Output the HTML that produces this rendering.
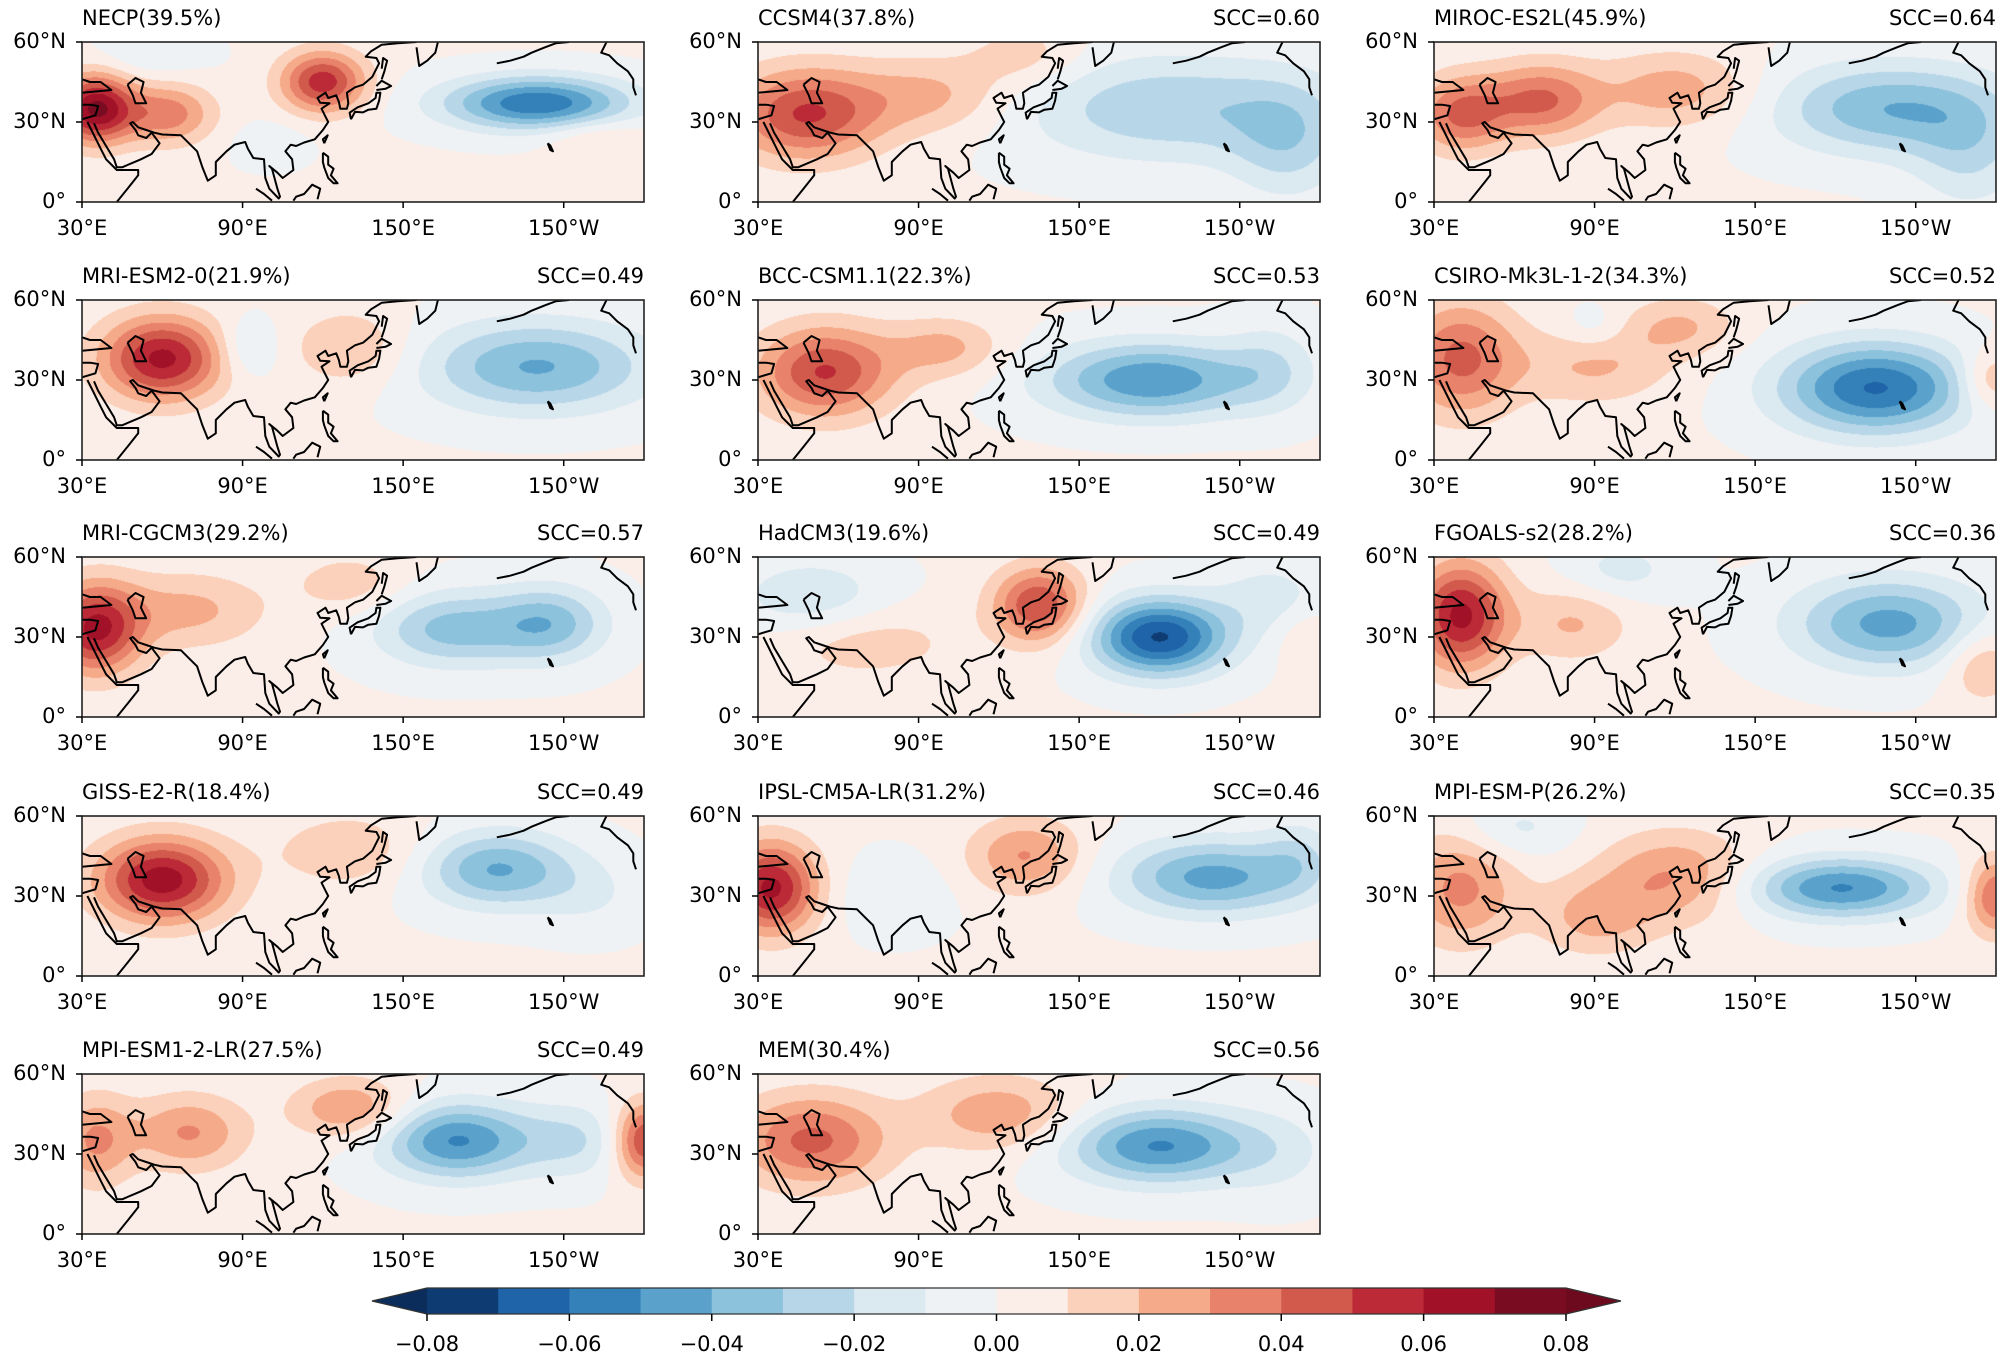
<!DOCTYPE html>
<html><head><meta charset="utf-8">
<style>
body{margin:0;background:#fff;}
#root{position:relative;width:2000px;height:1360px;overflow:hidden;font-family:"DejaVu Sans","Liberation Sans",sans-serif;color:#000;}
.t{position:absolute;font-size:21px;white-space:nowrap;line-height:1;}
canvas{position:absolute;}
svg{position:absolute;left:0;top:0;}
</style></head>
<body>
<div id="root"></div>
<script>
const panelNames = ["NECP(39.5%)","CCSM4(37.8%)","MIROC-ES2L(45.9%)","MRI-ESM2-0(21.9%)","BCC-CSM1.1(22.3%)","CSIRO-Mk3L-1-2(34.3%)","MRI-CGCM3(29.2%)","HadCM3(19.6%)","FGOALS-s2(28.2%)","GISS-E2-R(18.4%)","IPSL-CM5A-LR(31.2%)","MPI-ESM-P(26.2%)","MPI-ESM1-2-LR(27.5%)","MEM(30.4%)"];
const sccValues = [null,"0.60","0.64","0.49","0.53","0.52","0.57","0.49","0.36","0.49","0.46","0.35","0.49","0.56"];
// anomaly centres: [lon, lat, amplitude, lonWidth, latWidth]
const anomalies = [
 [[35,35,0.07,10,9],[62,33,0.035,12,8],[120,45,0.055,11,8],[200,37,-0.06,24,7],[55,55,-0.01,15,6],[222,25,0.012,14,5],[100,22,-0.008,10,6]],
 [[48,33,0.05,20,12],[95,40,0.022,20,10],[185,35,-0.03,40,14],[228,22,-0.022,15,15],[130,55,0.015,15,8]],
 [[40,33,0.04,12,10],[70,38,0.04,15,10],[120,42,0.025,20,10],[200,35,-0.04,30,12],[230,18,-0.02,15,15]],
 [[60,38,0.062,16,11],[92,42,-0.016,8,8],[130,42,0.02,15,10],[200,35,-0.042,30,12]],
 [[55,33,0.05,18,12],[100,42,0.022,15,8],[177,30,-0.05,28,10],[222,35,-0.015,12,12]],
 [[40,38,0.042,15,15],[90,35,0.02,20,10],[195,27,-0.062,25,12],[238,30,0.025,8,8],[122,50,0.02,15,8],[90,50,-0.01,8,6]],
 [[35,33,0.06,12,12],[70,40,0.022,20,10],[168,33,-0.035,20,10],[205,35,-0.035,15,10],[130,50,0.015,15,8]],
 [[50,45,-0.02,20,10],[70,28,0.015,25,10],[135,42,0.05,12,10],[180,30,-0.072,18,10],[222,45,-0.015,15,10],[235,30,0.01,8,8]],
 [[40,38,0.062,12,14],[82,35,0.02,15,10],[200,35,-0.045,25,12],[235,20,0.022,10,10],[100,55,-0.015,15,8]],
 [[60,36,0.065,17,11],[130,47,0.017,20,10],[185,40,-0.042,20,10],[220,30,-0.01,15,10]],
 [[35,33,0.062,12,12],[130,45,0.03,15,10],[200,37,-0.045,25,10],[80,30,-0.01,15,10],[232,45,-0.015,10,10]],
 [[40,33,0.032,15,15],[120,37,0.03,20,12],[90,22,0.022,15,10],[182,33,-0.052,25,8],[240,30,0.042,8,10],[60,55,-0.015,15,8]],
 [[35,35,0.03,10,12],[70,38,0.03,15,10],[130,47,0.03,15,8],[170,35,-0.052,20,10],[240,35,0.052,8,10],[215,35,-0.02,15,10]],
 [[50,35,0.042,20,12],[120,45,0.027,20,10],[180,33,-0.052,25,10],[225,30,-0.01,15,12]]
];
const xTickLabels = ["30°E","90°E","150°E","150°W"];
const xTickLons = [30,90,150,210];
const yTickLabels = ["60°N","30°N","0°"];
const yTickLats = [60,30,0];
const cbTickValues = [-0.08,-0.06,-0.04,-0.02,0.00,0.02,0.04,0.06,0.08];
const levelColors = ['#0e3c72','#1f63a8','#3480b9','#5aa2cc','#8dc2dd','#b7d7e8','#dbe9f1','#eef2f5','#fbeee8','#fbd1bb','#f5aa89','#e8826a','#d15a4d','#bb2a36','#a11228','#7a0c22'];
const coast = [
 [[30,31],[35,32.5],[36,36],[33,36.5],[30,36.5]],
 [[30,46],[33,45],[37,45],[41,42],[36,41.5],[30,41]],
 [[47,44],[50,46.5],[53,45],[52,41],[54,37],[50,37],[49,40],[47,44]],
 [[32,30],[33.5,27],[37,20],[39,16],[43,12],[51,12],[51,10],[47,5],[43,0]],
 [[34.5,29.5],[36,26],[39,21],[42,16],[43,13],[45,13],[52,16],[56,18],[59,22],[56,26],[54,24],[51,25],[50,27],[48,29.5],[49,30],[51,28],[54,27],[57,26],[60,25.3],[67,25],[70,22],[73,19],[75,13],[77,8],[80,10],[80,15],[84,19],[87,21.5],[91,22.5],[92,20],[94,16.5],[98,16],[98.5,9],[100,5],[103.5,1.3],[104,2],[103,5],[101,12.5],[100,13.5],[103,11],[105,9],[109,12],[108.5,16],[106,19],[108,21.5],[110,21],[113,22.3],[117,23.5],[120,27],[122,30],[121,32],[119.5,35],[122.5,37],[119,37.2],[118,39],[121,41],[122,39],[125,40],[126,37.5],[126.5,35],[129,35],[129.5,37],[129,41],[132,43],[135,44],[138.5,47],[141,52],[140,54],[136,54.5],[138,56.5],[142,59],[148,59.5],[155,60]],
 [[155,58],[156,51],[159,53],[162,56],[163,60]],
 [[130.5,31],[132,33.8],[135,33.6],[137,34.6],[140,35],[141,38],[141.5,41],[140,41],[139.7,39],[137,37],[133,35.5],[130,33.5],[130.5,31]],
 [[140,42],[143.5,42.5],[145.5,43.5],[142,45.5],[140,43.5]],
 [[142,46],[143,49],[144,53],[142.5,54],[142,50]],
 [[120.5,22],[121.8,25],[120,23.5],[120.5,22]],
 [[120,18.5],[122,17],[122,14],[124,12.5],[123,10],[125.5,7],[124,7],[122,9],[120.5,13],[120,15],[120,18.5]],
 [[95,5],[98,3],[101,0.5]],
 [[109,0.5],[110,2],[113,3],[116,6.5],[119,5],[118,1]],
 [[204,22],[205,21.2],[206,19],[205,19.5],[204,22]],
 [[185,52],[190,53],[195,54.5],[198,56],[203,58],[207,59.5],[212,60]],
 [[226,60],[225,58],[224,56],[227,55],[230,52],[234,49],[236,46],[236,43],[237,40]]
];

const root = document.getElementById('root');
const W = 562, H = 160;
const colX = [82,758,1434], rowY = [42,300,557,816,1074];
const lonMin=30, lonMax=240, latMin=0, latMax=60;
function xScale(lon){return (lon-lonMin)/(lonMax-lonMin)*W;}
function yScale(lat){return (latMax-lat)/(latMax-latMin)*H;}
function levelIndex(v){let i=Math.floor((v+0.08)/0.01);return Math.max(0,Math.min(15,i));}
function hex(c){return [parseInt(c.substr(1,2),16),parseInt(c.substr(3,2),16),parseInt(c.substr(5,2),16)];}
const rgb = levelColors.map(hex);
const NS='http://www.w3.org/2000/svg';
const svg=document.createElementNS(NS,'svg');
svg.setAttribute('width',2000);svg.setAttribute('height',1360);



function addText(txt,left,top,align,name){
  const d=document.createElement('div');d.className='t';d.textContent=txt;
  
  
  if(align==='right'){d.style.right=(2000-left)+'px';}
  else if(align==='center'){d.style.left=(left-60)+'px';d.style.width='120px';d.style.textAlign='center';}
  else d.style.left=left+'px';
  d.style.top=top+'px';root.appendChild(d);
}

panelNames.forEach((nm,p)=>{
  const ox=colX[p%3], oy=rowY[Math.floor(p/3)];
  const cv=document.createElement('canvas');cv.width=W;cv.height=H;
  cv.style.left=ox+'px';cv.style.top=oy+'px';
  
  
  const ctx=cv.getContext('2d');const img=ctx.createImageData(W,H);
  const bl=anomalies[p];
  for(let j=0;j<H;j++){const lat=latMax-(j+0.5)/H*60;
    for(let i=0;i<W;i++){const lon=lonMin+(i+0.5)/W*210;let v=0.001;
      for(const b of bl){const dx=(lon-b[0])/b[3],dy=(lat-b[1])/b[4];v+=b[2]*Math.exp(-0.5*(dx*dx+dy*dy));}
      const c=rgb[levelIndex(v)];const k=(j*W+i)*4;
      img.data[k]=c[0];img.data[k+1]=c[1];img.data[k+2]=c[2];img.data[k+3]=255;}}
  ctx.putImageData(img,0,0);root.appendChild(cv);
  const g=document.createElementNS(NS,'g');g.setAttribute('transform',`translate(${ox},${oy})`);
  
  
  const cp=document.createElementNS(NS,'clipPath');cp.setAttribute('id','c'+p);
  const cr=document.createElementNS(NS,'rect');cr.setAttribute('width',W);cr.setAttribute('height',H);cp.appendChild(cr);g.appendChild(cp);
  const cg=document.createElementNS(NS,'g');cg.setAttribute('clip-path',`url(#c${p})`);
  
  
  coast.forEach(line=>{const pl=document.createElementNS(NS,'polyline');
    pl.setAttribute('points',line.map(q=>xScale(q[0]).toFixed(1)+','+yScale(q[1]).toFixed(1)).join(' '));
    pl.setAttribute('fill','none');pl.setAttribute('stroke','#000');pl.setAttribute('stroke-width','2');pl.setAttribute('stroke-linejoin','round');cg.appendChild(pl);});
  g.appendChild(cg);
  const fr=document.createElementNS(NS,'rect');fr.setAttribute('width',W);fr.setAttribute('height',H);
  fr.setAttribute('fill','none');fr.setAttribute('stroke','#222');fr.setAttribute('stroke-width','1.6');g.appendChild(fr);
  xTickLons.forEach((lon,t)=>{const l=document.createElementNS(NS,'line');const x=xScale(lon);
    l.setAttribute('x1',x);l.setAttribute('x2',x);l.setAttribute('y1',H);l.setAttribute('y2',H+6);l.setAttribute('stroke','#000');l.setAttribute('stroke-width','1.5');g.appendChild(l);
    addText(xTickLabels[t],ox+x,oy+H+16,'center','x-tick-label');});
  yTickLats.forEach((lat,t)=>{const l=document.createElementNS(NS,'line');const y=yScale(lat);
    l.setAttribute('x1',-6);l.setAttribute('x2',0);l.setAttribute('y1',y);l.setAttribute('y2',y);l.setAttribute('stroke','#000');l.setAttribute('stroke-width','1.5');g.appendChild(l);
    addText(yTickLabels[t],ox-16,oy+y-11,'right','y-tick-label');});
  svg.appendChild(g);
  addText(nm,ox,oy-34,'left','panel-title');
  if(sccValues[p]) addText('SCC='+sccValues[p],ox+W,oy-34,'right','scc-label');
});

// colorbar
const cbL=427, cbR=1566, cbT=1288, cbB=1314, cbMin=-0.08, cbMax=0.08;
function cbX(v){return cbL+(v-cbMin)/(cbMax-cbMin)*(cbR-cbL);}
const cb=document.createElementNS(NS,'g');


levelColors.forEach((c,i)=>{const v0=cbMin+i*0.01;const r=document.createElementNS(NS,'rect');
  r.setAttribute('x',cbX(v0));r.setAttribute('y',cbT);r.setAttribute('width',cbX(v0+0.01)-cbX(v0)+0.5);r.setAttribute('height',cbB-cbT);r.setAttribute('fill',c);cb.appendChild(r);});
const tl=document.createElementNS(NS,'polygon');tl.setAttribute('points',`${cbL},${cbT} ${cbL-55},${(cbT+cbB)/2} ${cbL},${cbB}`);tl.setAttribute('fill','#0a2d5c');cb.appendChild(tl);
const tr=document.createElementNS(NS,'polygon');tr.setAttribute('points',`${cbR},${cbT} ${cbR+55},${(cbT+cbB)/2} ${cbR},${cbB}`);tr.setAttribute('fill','#6d0a1e');cb.appendChild(tr);
const ol=document.createElementNS(NS,'polygon');ol.setAttribute('points',`${cbL},${cbT} ${cbL-55},${(cbT+cbB)/2} ${cbL},${cbB} ${cbR},${cbB} ${cbR+55},${(cbT+cbB)/2} ${cbR},${cbT}`);
ol.setAttribute('fill','none');ol.setAttribute('stroke','#333');ol.setAttribute('stroke-width','1.2');cb.appendChild(ol);
cbTickValues.forEach(v=>{const x=cbX(v);const l=document.createElementNS(NS,'line');
  l.setAttribute('x1',x);l.setAttribute('x2',x);l.setAttribute('y1',cbB);l.setAttribute('y2',cbB+7);l.setAttribute('stroke','#000');l.setAttribute('stroke-width','1.5');cb.appendChild(l);
  addText((v<0?'\u22120':'0')+Math.abs(v).toFixed(2).slice(1),x,cbB+20,'center','colorbar-tick-label');});
svg.appendChild(cb);
root.appendChild(svg);
</script>
</body></html>
